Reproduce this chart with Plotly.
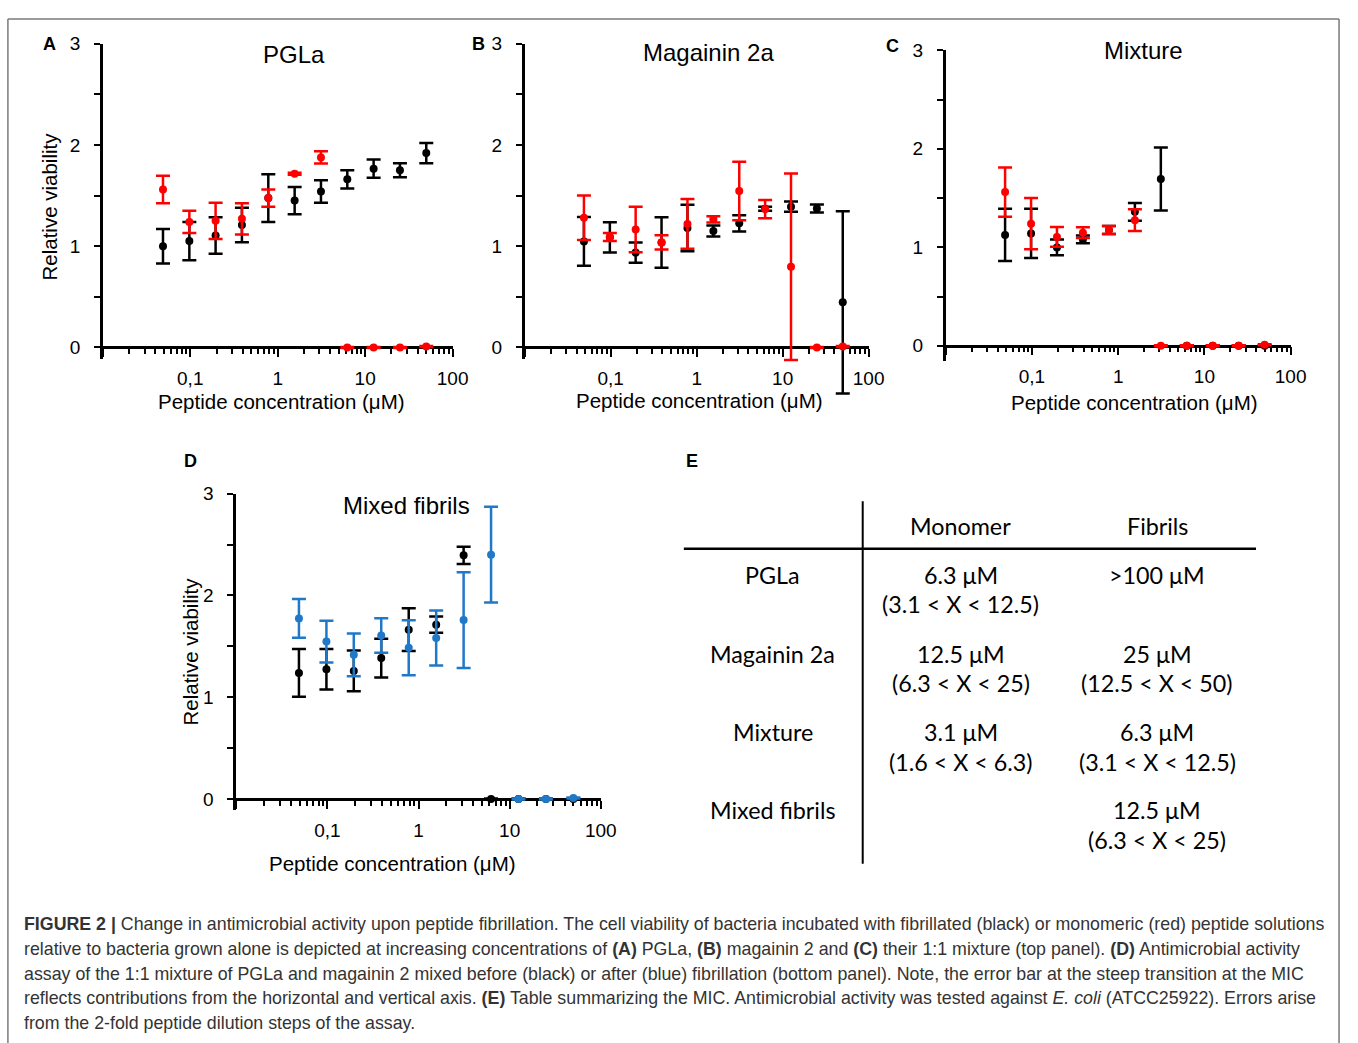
import plotly.graph_objects as go

W, H = 1358, 1043

# ---------------- data ----------------
CONC = [0.0488, 0.0977, 0.195, 0.39, 0.781, 1.5625, 3.125, 6.25, 12.5, 25, 50]

# Panel A: PGLa
A_FIB_MEAN = [1.00, 1.05, 1.105, 1.21, 1.475, 1.45, 1.54, 1.66, 1.765, 1.75, 1.92]
A_FIB_ERR = [0.17, 0.19, 0.18, 0.17, 0.235, 0.135, 0.11, 0.09, 0.09, 0.07, 0.10]
A_MONO_MEAN = [1.56, 1.24, 1.25, 1.27, 1.475, 1.715, 1.877, 0.0, 0.0, 0.0, 0.01]
A_MONO_ERR = [0.135, 0.11, 0.18, 0.155, 0.085, 0.01, 0.06, 0.005, 0.005, 0.005, 0.005]

# Panel B: Magainin 2a
B_FIB_MEAN = [1.047, 1.087, 0.937, 1.036, 1.18, 1.15, 1.226, 1.37, 1.39, 1.372, 0.445]
B_FIB_ERR = [0.24, 0.15, 0.10, 0.25, 0.23, 0.055, 0.08, 0.02, 0.05, 0.04, 0.90]
B_MONO_MEAN = [1.28, 1.09, 1.164, 1.037, 1.22, 1.265, 1.545, 1.366, 0.797, 0.0, 0.01]
B_MONO_ERR = [0.22, 0.04, 0.225, 0.07, 0.245, 0.03, 0.29, 0.09, 0.92, 0.005, 0.005]

# Panel C: Mixture
C_FIB_MEAN = [1.125, 1.14, 0.998, 1.08, 1.175, 1.36, 1.694, 0.0, 0.0, 0.0, 0.0]
C_FIB_ERR = [0.265, 0.25, 0.08, 0.04, 0.04, 0.09, 0.32, 0.005, 0.005, 0.005, 0.005]
C_MONO_MEAN = [1.56, 1.24, 1.105, 1.148, 1.175, 1.275, 0.0, 0.0, 0.0, 0.0, 0.01]
C_MONO_ERR = [0.25, 0.26, 0.10, 0.055, 0.04, 0.11, 0.005, 0.005, 0.005, 0.005, 0.005]

# Panel D: Mixed fibrils
D_BEFORE_MEAN = [1.239, 1.275, 1.258, 1.385, 1.664, 1.713, 2.394, 0.0, 0.0, 0.0, 0.0]
D_BEFORE_ERR = [0.235, 0.20, 0.20, 0.19, 0.21, 0.08, 0.085, 0.005, 0.005, 0.005, 0.005]
D_AFTER_MEAN = [1.774, 1.547, 1.417, 1.606, 1.486, 1.583, 1.758, 2.40, 0.0, 0.0, 0.01]
D_AFTER_ERR = [0.19, 0.205, 0.21, 0.17, 0.27, 0.27, 0.47, 0.47, 0.005, 0.005, 0.005]

X_TICK_VALS = [0.01, 0.1, 1, 10, 100]
X_TICK_TEXT = ["", "0,1", "1", "10", "100"]
Y_TICK_VALS = [0, 0.5, 1, 1.5, 2, 2.5, 3]
Y_TICK_TEXT = ["0", "", "1", "", "2", "", "3"]

PANEL_TITLES = ["PGLa", "Magainin 2a", "Mixture", "Mixed fibrils"]
PANEL_LETTERS = ["A", "B", "C", "D", "E"]
X_TITLE = "Peptide concentration (μM)"
Y_TITLE = "Relative viability"

TABLE_HEADER = ["Monomer", "Fibrils"]
TABLE_ROWS = ["PGLa", "Magainin 2a", "Mixture", "Mixed fibrils"]
TABLE_MONO = [("6.3 μM", "(3.1 < X < 12.5)"), ("12.5 μM", "(6.3 < X < 25)"),
              ("3.1 μM", "(1.6 < X < 6.3)"), ("", "")]
TABLE_FIB = [(">100 μM", ""), ("25 μM", "(12.5 < X < 50)"),
             ("6.3 μM", "(3.1 < X < 12.5)"), ("12.5 μM", "(6.3 < X < 25)")]

CAPTION = [
    "<b>FIGURE 2 |</b> Change in antimicrobial activity upon peptide fibrillation. The cell viability of bacteria incubated with fibrillated (black) or monomeric (red) peptide solutions",
    "relative to bacteria grown alone is depicted at increasing concentrations of <b>(A)</b> PGLa, <b>(B)</b> magainin 2 and <b>(C)</b> their 1:1 mixture (top panel). <b>(D)</b> Antimicrobial activity",
    "assay of the 1:1 mixture of PGLa and magainin 2 mixed before (black) or after (blue) fibrillation (bottom panel). Note, the error bar at the steep transition at the MIC",
    "reflects contributions from the horizontal and vertical axis. <b>(E)</b> Table summarizing the MIC. Antimicrobial activity was tested against <i>E. coli</i> (ATCC25922). Errors arise",
    "from the 2-fold peptide dilution steps of the assay.",
]

BLACK = "#000000"
RED = "#ff0000"
BLUE = "#1f78c8"

# ---------------- layout helpers ----------------
def px(p):
    return p / W

def py(p):
    return 1 - p / H

FONT = "Liberation Sans, Arial, sans-serif"
TFONT = "Lato, Open Sans, sans-serif"

# panel geometry in pixels: x-left, x-right, y of value 3, y of value 0, y min of drawn axis
PANELS = [
    dict(x0=104, x1=458, ytop=34, yzero=340.7, ymin=-0.11),
    dict(x0=531, x1=879, ytop=34, yzero=340.7, ymin=-0.11),
    dict(x0=957, x1=1306, ytop=40.7, yzero=339.0, ymin=-0.15),
    dict(x0=239, x1=608, ytop=488.3, yzero=796.7, ymin=-0.11),
]
DATA_YMIN = -0.7  # lower limit of the (invisible) data axis so error bars are not clipped

SERIES = [
    [(A_FIB_MEAN, A_FIB_ERR, BLACK), (A_MONO_MEAN, A_MONO_ERR, RED)],
    [(B_FIB_MEAN, B_FIB_ERR, BLACK), (B_MONO_MEAN, B_MONO_ERR, RED)],
    [(C_FIB_MEAN, C_FIB_ERR, BLACK), (C_MONO_MEAN, C_MONO_ERR, RED)],
    [(D_BEFORE_MEAN, D_BEFORE_ERR, BLACK), (D_AFTER_MEAN, D_AFTER_ERR, BLUE)],
]

minor_vals = [m * 10 ** e for e in range(-2, 2) for m in range(2, 10)]

fig = go.Figure()
layout = dict(
    width=W, height=H, autosize=False,
    margin=dict(l=0, r=0, t=0, b=0),
    paper_bgcolor="white", plot_bgcolor="rgba(0,0,0,0)",
    showlegend=False,
    font=dict(family=FONT, color="black"),
)

annotations = []
shapes = []

for i, (geo, series) in enumerate(zip(PANELS, SERIES)):
    n = "" if i == 0 else str(i + 1)
    nd = str(i + 5)
    xa, ya, yd = "x" + n, "y" + n, "y" + nd
    unit = (geo["yzero"] - geo["ytop"]) / 3.0
    ybot = geo["yzero"] - geo["ymin"] * unit
    ybot_data = geo["yzero"] - DATA_YMIN * unit
    # empty trace so the visible axis pair is created
    fig.add_trace(go.Scatter(x=[], y=[], xaxis=xa, yaxis=ya, hoverinfo="skip"))
    for mean, err, col in series:
        fig.add_trace(go.Scatter(
            x=CONC, y=mean, mode="markers",
            marker=dict(color=col, size=8),
            error_y=dict(type="data", array=err, symmetric=True, color=col,
                         thickness=2.5, width=7),
            cliponaxis=False, xaxis=xa, yaxis=yd, hoverinfo="skip",
        ))
    layout["xaxis" + n] = dict(
        type="log", range=[-2, 2], domain=[px(geo["x0"]), px(geo["x1"])],
        anchor="free", position=py(geo["yzero"]),
        showline=True, linewidth=2.5, linecolor="black",
        ticks="outside", ticklen=8, tickwidth=2, tickcolor="black",
        tickvals=X_TICK_VALS, ticktext=X_TICK_TEXT,
        minor=dict(tickvals=minor_vals, ticks="outside", ticklen=5,
                   tickwidth=1.8, tickcolor="black"),
        showgrid=False, zeroline=False, fixedrange=True,
        tickfont=dict(size=19, family=FONT), ticklabelstandoff=5,
    )
    layout["yaxis" + n] = dict(
        range=[geo["ymin"], 3.0], domain=[py(ybot), py(geo["ytop"])],
        anchor=xa, showline=True, linewidth=2.5, linecolor="black",
        ticks="outside", ticklen=6, tickwidth=2, tickcolor="black",
        tickvals=Y_TICK_VALS, ticktext=Y_TICK_TEXT,
        showgrid=False, zeroline=False, fixedrange=True,
        tickfont=dict(size=19, family=FONT), ticklabelstandoff=10,
    )
    layout["yaxis" + nd] = dict(
        range=[DATA_YMIN, 3.0], domain=[py(ybot_data), py(geo["ytop"])],
        anchor=xa, visible=False, showgrid=False, zeroline=False, fixedrange=True,
    )

# panel titles
title_pos = [(298, 45), (717, 43), (1157, 41), (411, 500)]
for t, (x, y) in zip(PANEL_TITLES, title_pos):
    annotations.append(dict(text=t, x=px(x), y=py(y), xref="paper", yref="paper",
                            xanchor="center", yanchor="middle", showarrow=False,
                            font=dict(size=24, family=FONT, color="black")))
# panel letters
letter_pos = [(50, 34), (484, 34), (903, 36), (193, 455), (700, 455)]
for t, (x, y) in zip(PANEL_LETTERS, letter_pos):
    annotations.append(dict(text="<b>" + t + "</b>", x=px(x), y=py(y), xref="paper", yref="paper",
                            xanchor="center", yanchor="middle", showarrow=False,
                            font=dict(size=18, family=FONT, color="black")))
# x axis titles
for (x, y) in [(285, 395), (708, 394), (1148, 396), (397, 862)]:
    annotations.append(dict(text=X_TITLE, x=px(x), y=py(y), xref="paper", yref="paper",
                            xanchor="center", yanchor="middle", showarrow=False,
                            font=dict(size=20.5, family=FONT, color="black")))
# y axis titles
for (x, y) in [(50, 198), (193, 648)]:
    annotations.append(dict(text=Y_TITLE, x=px(x), y=py(y), xref="paper", yref="paper",
                            xanchor="center", yanchor="middle", showarrow=False, textangle=-90,
                            font=dict(size=20.5, family=FONT, color="black")))

# table E
shapes.append(dict(type="line", xref="paper", yref="paper", x0=px(873), x1=px(873),
                   y0=py(496), y1=py(862), line=dict(color="black", width=2)))
shapes.append(dict(type="line", xref="paper", yref="paper", x0=px(692), x1=px(1271),
                   y0=py(544), y1=py(544), line=dict(color="black", width=2.5)))
col_x = [782, 972, 1171]

def tab_text(t, x, y):
    if t:
        annotations.append(dict(text=t, x=px(x), y=py(y), xref="paper", yref="paper",
                                xanchor="center", yanchor="middle", showarrow=False,
                                font=dict(size=23.3, family=TFONT, color="black")))

tab_text(TABLE_HEADER[0], col_x[1], 521)
tab_text(TABLE_HEADER[1], col_x[2], 521)
row_y = [570, 650, 729, 808]
for r, yy in enumerate(row_y):
    tab_text(TABLE_ROWS[r], col_x[0], yy)
    tab_text(TABLE_MONO[r][0], col_x[1], yy)
    tab_text(TABLE_MONO[r][1], col_x[1], yy + 30)
    tab_text(TABLE_FIB[r][0], col_x[2], yy)
    tab_text(TABLE_FIB[r][1], col_x[2], yy + 30)

# caption
for k, line in enumerate(CAPTION):
    annotations.append(dict(text=line, x=px(22), y=py(923 + 25 * k), xref="paper", yref="paper",
                            xanchor="left", yanchor="middle", showarrow=False, align="left",
                            font=dict(size=17.8, family=FONT, color="#333333")))

# outer frame (left, top, right edges; bottom edge is below the visible area)
frame = dict(color="#7a7a7a", width=1.5)
shapes.append(dict(type="line", xref="paper", yref="paper", x0=px(8), x1=px(8),
                   y0=0, y1=py(9), line=frame))
shapes.append(dict(type="line", xref="paper", yref="paper", x0=px(8), x1=px(1355),
                   y0=py(9), y1=py(9), line=frame))
shapes.append(dict(type="line", xref="paper", yref="paper", x0=px(1355), x1=px(1355),
                   y0=0, y1=py(9), line=frame))

layout["annotations"] = annotations
layout["shapes"] = shapes
fig.update_layout(**layout)
fig.write_html("out.html")
